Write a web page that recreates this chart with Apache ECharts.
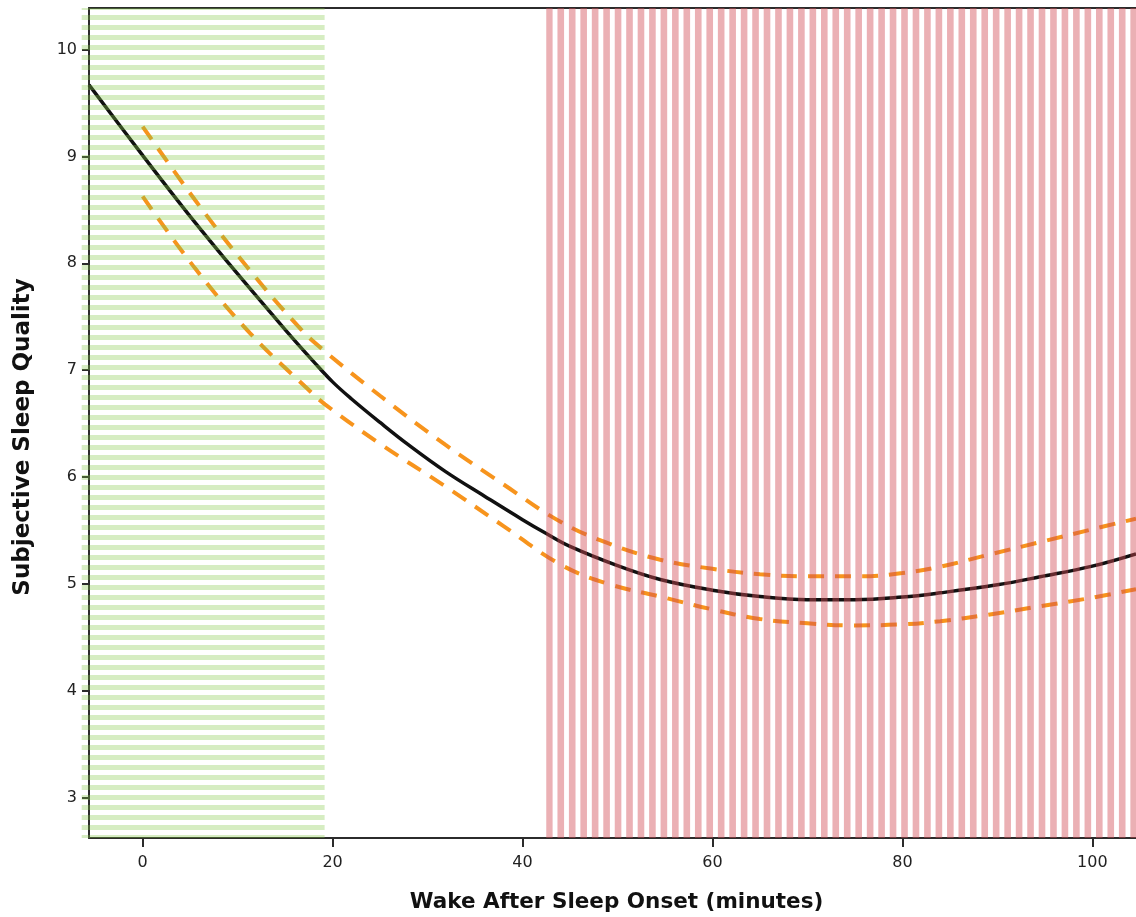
<!DOCTYPE html>
<html>
<head>
<meta charset="utf-8">
<script src="https://cdn.jsdelivr.net/npm/echarts@6/dist/echarts.min.js"></script>
<style>
html,body{margin:0;padding:0;background:#fff;}
#chart{position:absolute;left:0;top:0;width:1136px;height:917px;}
</style>
</head>
<body>
<div id="chart"></div>
<script>
// ---- data ----
const xTicks = [0, 20, 40, 60, 80, 100];
const yTicks = [3, 4, 5, 6, 7, 8, 9, 10];

const xMain = [-5.65, 0, 5, 10, 15, 18, 20, 22, 25, 28, 31.9, 36, 40, 42.5, 45, 50, 54.5, 60, 65, 70, 75, 80, 84, 90, 94.5, 100, 104.6];
const yMain = [9.67, 9.01, 8.44, 7.90, 7.38, 7.08, 6.89, 6.73, 6.51, 6.30, 6.05, 5.82, 5.60, 5.47, 5.35, 5.17, 5.04, 4.94, 4.88, 4.85, 4.85, 4.875, 4.915, 4.99, 5.065, 5.165, 5.28];

const xUpper = [0, 5.5, 11, 16.7, 19.2, 25, 31.9, 38, 44, 49, 54.5, 60, 65, 70, 75.6, 80, 84, 89, 94.5, 100, 104.6];
const yUpper = [9.28, 8.595, 7.965, 7.38, 7.175, 6.76, 6.30, 5.93, 5.58, 5.38, 5.225, 5.14, 5.09, 5.07, 5.07, 5.10, 5.16, 5.27, 5.39, 5.51, 5.61];

const xLower = [0, 5.5, 11.3, 17.3, 19.2, 25, 31.9, 38, 44, 49, 54.5, 60, 65, 70, 74.5, 80, 84, 89, 94.5, 100, 104.6];
const yLower = [8.626, 7.955, 7.346, 6.83, 6.68, 6.31, 5.91, 5.54, 5.18, 5.00, 4.88, 4.76, 4.67, 4.63, 4.61, 4.62, 4.65, 4.71, 4.79, 4.87, 4.95];

const greenZone = [-6.42, 19.16];
const redZone = [42.5, 104.6];

const xRange = [-5.65, 104.6];
const yRange = [2.62, 10.39];

const xTitle = 'Wake After Sleep Onset (minutes)';
const yTitle = 'Subjective Sleep Quality';

// ---- stripe patterns ----
function greenPattern() {
  const c = document.createElement('canvas');
  c.width = 10; c.height = 10;
  const g = c.getContext('2d');
  g.fillStyle = 'rgba(130,200,70,0.33)';
  g.fillRect(0, 5, 10, 5);
  return c;
}
function redPattern() {
  const W = 275, n = 24, period = W / n, offset = 546 % W;
  const c = document.createElement('canvas');
  c.width = W; c.height = 4;
  const g = c.getContext('2d');
  g.fillStyle = 'rgba(210,75,85,0.44)';
  for (let i = -30; i <= 30; i++) {
    g.fillRect(offset + i * period, 0, 6.6, 4);
  }
  return c;
}
const patterns = [greenPattern(), redPattern()];

const pairs = (xs, ys) => xs.map((x, i) => [x, ys[i]]);

const chart = echarts.init(document.getElementById('chart'), null, {renderer: 'canvas'});
const axisCol = '#2b2b2b';
const labelFont = {color: '#222', fontFamily: 'DejaVu Sans', fontSize: 16};

chart.setOption({
  animation: false,
  backgroundColor: '#fff',
  grid: {left: 89, right: 0, top: 8, bottom: 79, containLabel: false, outerBoundsMode: 'none'},
  xAxis: [{
    type: 'value', min: xRange[0], max: xRange[1],
    splitLine: {show: false},
    axisLine: {show: true, onZero: false, lineStyle: {color: axisCol, width: 2}},
    axisTick: {show: true, length: 9, lineStyle: {color: axisCol, width: 2}, customValues: xTicks},
    axisLabel: Object.assign({margin: 17, customValues: xTicks}, labelFont),
    name: xTitle, nameLocation: 'middle', nameGap: 53,
    nameTextStyle: {color: '#111', fontFamily: 'DejaVu Sans', fontSize: 21.5, fontWeight: 'bold', padding: [0, 0, 0, 8]}
  }, {
    type: 'value', position: 'top', min: xRange[0], max: xRange[1],
    splitLine: {show: false},
    axisLine: {show: true, onZero: false, lineStyle: {color: axisCol, width: 2}},
    axisTick: {show: false}, axisLabel: {show: false}
  }],
  yAxis: {
    type: 'value', min: yRange[0], max: yRange[1],
    splitLine: {show: false},
    axisLine: {show: true, onZero: false, lineStyle: {color: axisCol, width: 2}},
    axisTick: {show: true, length: 7, lineStyle: {color: axisCol, width: 2}, customValues: yTicks},
    axisLabel: Object.assign({margin: 12, customValues: yTicks}, labelFont),
    name: yTitle, nameLocation: 'middle', nameGap: 54,
    nameTextStyle: {color: '#111', fontFamily: 'DejaVu Sans', fontSize: 23, fontWeight: 'bold', padding: [0, 28, 0, 0]}
  },
  series: [
    {
      type: 'line', data: pairs(xUpper, yUpper), showSymbol: false, smooth: 0.4, z: 3, silent: true,
      lineStyle: {color: '#f7941d', width: 4, type: [16, 11]}
    },
    {
      type: 'line', data: pairs(xLower, yLower), showSymbol: false, smooth: 0.4, z: 3, silent: true,
      lineStyle: {color: '#f7941d', width: 4, type: [16, 11]}
    },
    {
      type: 'line', data: pairs(xMain, yMain), showSymbol: false, smooth: 0.4, z: 4, silent: true,
      lineStyle: {color: '#111', width: 3.5}
    },
    {
      type: 'custom', z: 10, silent: true, clip: false,
      data: [[greenZone[0], greenZone[1], 0], [redZone[0], redZone[1], 1]],
      renderItem: function (params, api) {
        const p0 = api.coord([api.value(0), yRange[1]]);
        const p1 = api.coord([api.value(1), yRange[0]]);
        return {
          type: 'rect',
          shape: {x: p0[0], y: p0[1], width: p1[0] - p0[0], height: p1[1] - p0[1]},
          style: {fill: {image: patterns[api.value(2)], repeat: 'repeat'}}
        };
      }
    }
  ]
});
</script>
</body>
</html>
